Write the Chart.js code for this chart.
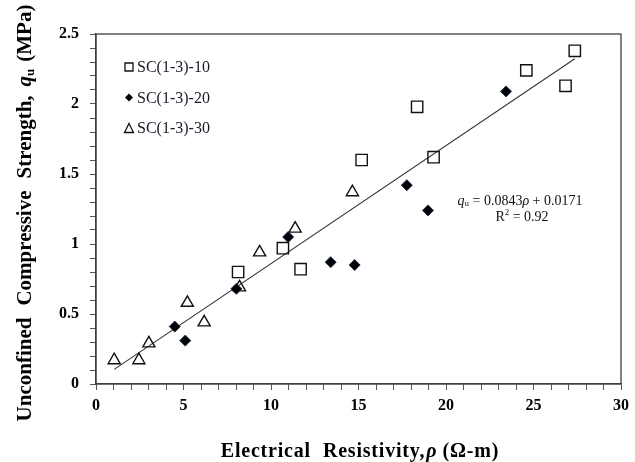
<!DOCTYPE html>
<html>
<head>
<meta charset="utf-8">
<script src="https://cdn.jsdelivr.net/npm/chart.js@4.4.1/dist/chart.umd.min.js"></script>
<style>
  html, body { margin: 0; padding: 0; background: #fff; }
  #wrap { width: 635px; height: 462px; }
</style>
</head>
<body>
<div id="wrap"><canvas id="chart" width="635" height="462"></canvas></div>
<script>
// Data
const seriesNames = ['SC(1-3)-10', 'SC(1-3)-20', 'SC(1-3)-30'];

const sc10X = [8.12, 10.68, 11.69, 15.18, 18.35, 19.29, 24.59, 26.83, 27.36];
const sc10Y = [0.80, 0.97, 0.82, 1.60, 1.98, 1.62, 2.24, 2.13, 2.38];

const sc20X = [4.50, 5.10, 8.02, 10.98, 13.41, 14.78, 17.76, 18.97, 23.43];
const sc20Y = [0.41, 0.31, 0.68, 1.05, 0.87, 0.85, 1.42, 1.24, 2.09];

const sc30X = [1.04, 2.45, 3.02, 5.22, 6.18, 8.20, 9.35, 11.38, 14.65];
const sc30Y = [0.17, 0.17, 0.29, 0.58, 0.44, 0.69, 0.94, 1.11, 1.37];

// regression printed on the chart: qu = 0.0843 rho + 0.0171
const fitSlope = 0.0843;
const fitIntercept = 0.0171;

const xTicks = [0, 5, 10, 15, 20, 25, 30];
const yTicks = [0, 0.5, 1, 1.5, 2, 2.5];

const SERIF = '"Liberation Serif", "Times New Roman", serif';

function toPoints(xs, ys) {
  return xs.map((x, i) => ({ x: x, y: ys[i] }));
}

const allX = sc10X.concat(sc20X, sc30X);
const fitX = [Math.min(...allX), Math.max(...allX)];
const fitLine = fitX.map(x => ({ x: x, y: fitSlope * x + fitIntercept }));

// draws a row of text pieces, each with its own font / offset / spacing
function drawRuns(ctx, runs, x, y, align) {
  let total = 0;
  runs.forEach(r => {
    ctx.font = r.font;
    ctx.letterSpacing = '0px';
    r.w = ctx.measureText(r.t).width + (r.ls || 0) * r.t.length;
    total += r.w + (r.gap || 0);
  });
  let cx = align === 'center' ? x - total / 2 : x;
  runs.forEach(r => {
    ctx.font = r.font;
    ctx.letterSpacing = (r.ls || 0) + 'px';
    ctx.fillText(r.t, cx, y + (r.dy || 0));
    cx += r.w + (r.gap || 0);
  });
  ctx.letterSpacing = '0px';
}

function drawMarker(ctx, style, x, y, s) {
  ctx.beginPath();
  if (style === 'rect') {
    ctx.rect(x - s / 2, y - s / 2, s, s);
    ctx.lineWidth = 1.3;
    ctx.strokeStyle = '#111';
    ctx.stroke();
  } else if (style === 'rectRot') {
    ctx.moveTo(x, y - s / 2);
    ctx.lineTo(x + s / 2, y);
    ctx.lineTo(x, y + s / 2);
    ctx.lineTo(x - s / 2, y);
    ctx.closePath();
    ctx.fillStyle = '#000';
    ctx.fill();
  } else {
    ctx.moveTo(x, y - s / 2);
    ctx.lineTo(x + s / 2, y + s / 2);
    ctx.lineTo(x - s / 2, y + s / 2);
    ctx.closePath();
    ctx.lineWidth = 1.3;
    ctx.strokeStyle = '#111';
    ctx.stroke();
  }
}

const decorPlugin = {
  id: 'decor',
  afterDraw(chart) {
    const ctx = chart.ctx;
    const a = chart.chartArea;
    ctx.save();

    // frame on top and right
    ctx.strokeStyle = '#404040';
    ctx.lineWidth = 1.3;
    ctx.strokeRect(a.left, a.top, a.right - a.left, a.bottom - a.top);

    ctx.fillStyle = '#000';
    ctx.textBaseline = 'middle';

    // legend inside the plot
    const styles = ['rect', 'rectRot', 'triangle'];
    const sizes = [8, 8, 9];
    seriesNames.forEach((name, i) => {
      const y = 67 + i * 30.5;
      drawMarker(ctx, styles[i], 129, y, sizes[i]);
      ctx.fillStyle = '#1a1a2a';
      ctx.font = '16px ' + SERIF;
      ctx.textAlign = 'left';
      ctx.fillText(name, 137, y + 1);
    });

    // equation and R2
    ctx.fillStyle = '#111';
    ctx.textAlign = 'left';
    drawRuns(ctx, [
      { t: 'q', font: 'italic 14px ' + SERIF },
      { t: 'u', font: '9px ' + SERIF, dy: 3 },
      { t: ' = 0.0843', font: '14px ' + SERIF },
      { t: 'ρ', font: 'italic 14px ' + SERIF },
      { t: ' + 0.0171', font: '14px ' + SERIF }
    ], 520, 201, 'center');
    drawRuns(ctx, [
      { t: 'R', font: '14px ' + SERIF },
      { t: '2', font: '9px ' + SERIF, dy: -4 },
      { t: ' = 0.92', font: '14px ' + SERIF }
    ], 522, 217, 'center');

    // x axis title
    ctx.fillStyle = '#000';
    ctx.textBaseline = 'alphabetic';
    drawRuns(ctx, [
      { t: 'Electrical', font: 'bold 20px ' + SERIF, ls: 0.8, gap: 12 },
      { t: 'Resistivity,', font: 'bold 20px ' + SERIF, ls: 0.8, gap: 1 },
      { t: 'ρ', font: 'bold italic 20px ' + SERIF, gap: 6 },
      { t: '(Ω-m)', font: 'bold 20px ' + SERIF, ls: 0.8 }
    ], 360, 457, 'center');

    // y axis title
    ctx.translate(31, 213);
    ctx.rotate(-Math.PI / 2);
    drawRuns(ctx, [
      { t: 'Unconfined', font: 'bold 21px ' + SERIF, gap: 12 },
      { t: 'Compressive', font: 'bold 21px ' + SERIF, gap: 12 },
      { t: 'Strength,', font: 'bold 21px ' + SERIF, gap: 9 },
      { t: 'q', font: 'bold italic 21px ' + SERIF },
      { t: 'u', font: 'bold 13px ' + SERIF, dy: 3, gap: 7 },
      { t: '(MPa)', font: 'bold 21px ' + SERIF }
    ], 0, 0, 'center');

    ctx.restore();
  }
};

function majorLabel(value, majors) {
  const hit = majors.find(m => Math.abs(m - value) < 1e-6);
  return hit === undefined ? '' : String(hit);
}

new Chart(document.getElementById('chart'), {
  type: 'scatter',
  data: {
    datasets: [
      {
        label: 'Linear fit',
        type: 'line',
        data: fitLine,
        borderColor: '#333',
        borderWidth: 1.1,
        pointRadius: 0,
        fill: false,
        order: 3
      },
      {
        label: seriesNames[0],
        data: toPoints(sc10X, sc10Y),
        pointStyle: 'rect',
        pointRadius: 8,
        borderWidth: 1.4,
        borderColor: '#111',
        backgroundColor: 'rgba(255,255,255,0)',
        order: 1
      },
      {
        label: seriesNames[1],
        data: toPoints(sc20X, sc20Y),
        pointStyle: 'rectRot',
        pointRadius: 5.5,
        borderWidth: 1,
        borderColor: '#1f2f55',
        backgroundColor: '#000',
        order: 1
      },
      {
        label: seriesNames[2],
        data: toPoints(sc30X, sc30Y),
        pointStyle: 'triangle',
        pointRadius: 7,
        borderWidth: 1.4,
        borderColor: '#111',
        backgroundColor: 'rgba(255,255,255,0)',
        order: 1
      }
    ]
  },
  options: {
    responsive: false,
    animation: false,
    devicePixelRatio: 1,
    layout: {
      padding: { top: 34, right: 12, left: 0, bottom: 0 }
    },
    plugins: {
      legend: { display: false },
      tooltip: { enabled: false }
    },
    scales: {
      x: {
        type: 'linear',
        min: 0,
        max: 30,
        afterFit(scale) { scale.height = 78; },
        ticks: {
          stepSize: 1,
          autoSkip: false,
          maxRotation: 0,
          padding: 6,
          color: '#000',
          font: { family: SERIF, size: 16, weight: 'bold' },
          callback: v => majorLabel(v, xTicks)
        },
        grid: {
          drawOnChartArea: false,
          drawTicks: true,
          tickLength: 6,
          color: '#555',
          lineWidth: 1
        },
        border: { display: true, color: '#404040', width: 1.3 }
      },
      y: {
        type: 'linear',
        min: 0,
        max: 2.5,
        afterFit(scale) { scale.width = 96; },
        ticks: {
          stepSize: 0.1,
          autoSkip: false,
          padding: 11,
          color: '#000',
          font: { family: SERIF, size: 16, weight: 'bold' },
          callback: v => majorLabel(v, yTicks)
        },
        grid: {
          drawOnChartArea: false,
          drawTicks: true,
          tickLength: 6,
          color: '#555',
          lineWidth: 1
        },
        border: { display: true, color: '#404040', width: 1.3 }
      }
    }
  },
  plugins: [decorPlugin]
});
</script>
</body>
</html>
